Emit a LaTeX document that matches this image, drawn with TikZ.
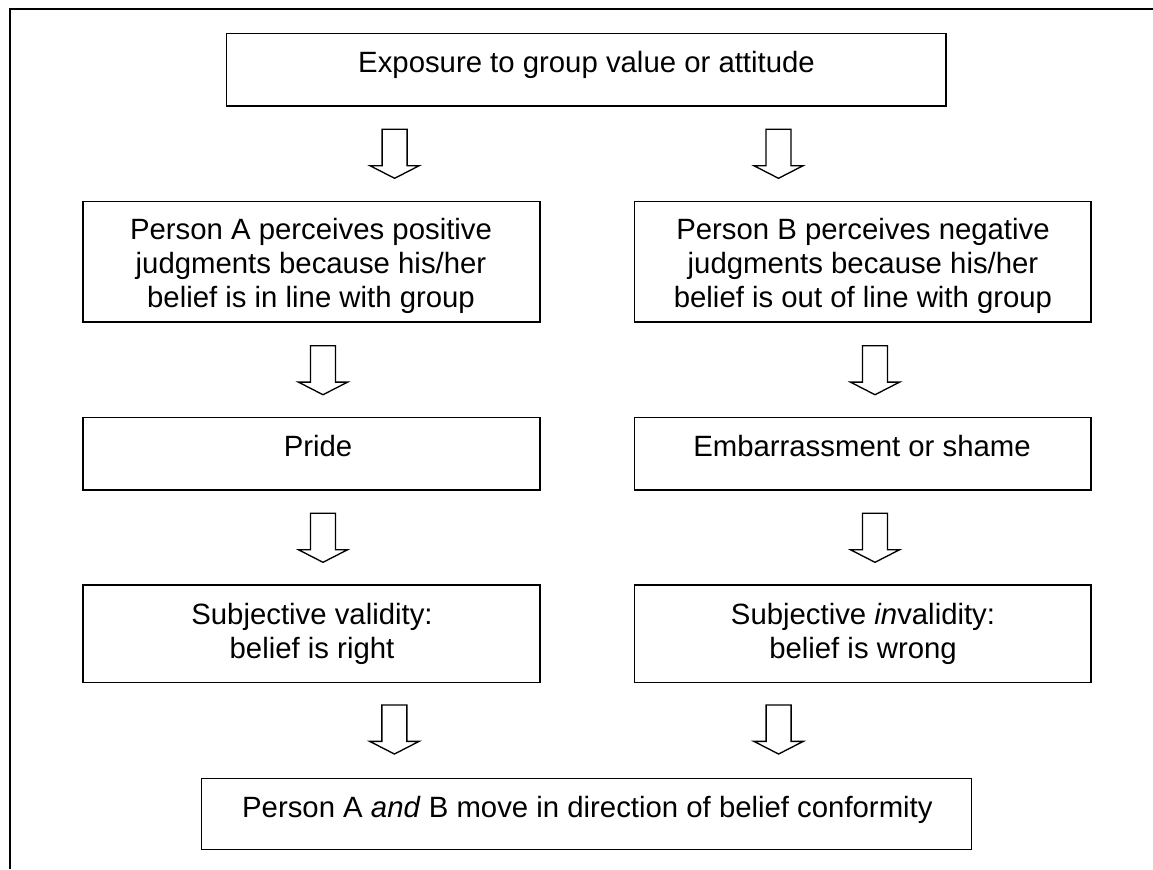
\documentclass[tikz,border=0pt]{standalone}
\usepackage{fontspec}
\setmainfont{Liberation Sans}
\begin{document}
\begin{tikzpicture}[x=0.75pt,y=-0.75pt,
  box/.style={draw, line width=1.1pt, inner sep=0pt},
  txt/.style={font=\fontsize{22}{25.5}\selectfont, align=center, inner sep=0pt},
  frame/.style={line width=1.5pt},
  pics/barrow/.style={code={
    \draw[line width=1pt, line join=miter]
      (-12.5,0) -- (12.5,0) -- (12.5,36.4) -- (24.6,36.4) -- (0,49)
      -- (-24.6,36.4) -- (-12.5,36.4) -- cycle;}}]
\useasboundingbox (0,0) rectangle (1153,869);
% outer frame (top and left only)
\coordinate (fa) at (1153,8.5);
\coordinate (fb) at (9.5,8.5);
\coordinate (fc) at (9.5,869);
\draw[frame] (fa) -- (fb) -- (fc);

% boxes
\node[box, minimum width=539.7pt, minimum height=54.5pt] (top) at (586.2,69.7) {};
\node[box, minimum width=342.75pt, minimum height=90.2pt] (a1) at (311.5,261.85) {};
\node[box, minimum width=342.5pt, minimum height=90.2pt] (b1) at (862.65,261.85) {};
\node[box, minimum width=342.75pt, minimum height=54.5pt] (a2) at (311.5,453.65) {};
\node[box, minimum width=342.5pt, minimum height=54.5pt] (b2) at (862.65,453.65) {};
\node[box, minimum width=342.75pt, minimum height=73pt] (a3) at (311.5,633.65) {};
\node[box, minimum width=342.5pt, minimum height=73pt] (b3) at (862.65,633.65) {};
\node[box, minimum width=577.5pt, minimum height=53.25pt] (bot) at (586.7,813.8) {};

% texts
\node[txt, anchor=base] (topt) at (586.5,72.5) {Exposure to group value or attitude};
\node[txt] (a1t) at (311,266) {Person A perceives positive\\judgments because his/her\\belief is in line with group};
\node[txt] (b1t) at (863,266) {Person B perceives negative\\judgments because his/her\\belief is out of line with group};
\node[txt, anchor=base] (a2t) at (318,456) {Pride};
\node[txt, anchor=base] (b2t) at (862,456) {Embarrassment or shame};
\node[txt] (a3t) at (312,634) {Subjective validity:\\belief is right};
\node[txt] (b3t) at (863,634) {Subjective \textit{in}validity:\\belief is wrong};
\node[txt, anchor=base] (bott) at (587.4,817.5) {Person A \textit{and} B move in direction of belief conformity};

% block arrows
\pic at (394.6,129.3) {barrow};
\pic at (778.5,129.3) {barrow};
\pic at (323,345.7) {barrow};
\pic at (875,345.7) {barrow};
\pic at (323,513.3) {barrow};
\pic at (875,513.3) {barrow};
\pic at (394.4,705) {barrow};
\pic at (778.6,705) {barrow};
\end{tikzpicture}
\end{document}
